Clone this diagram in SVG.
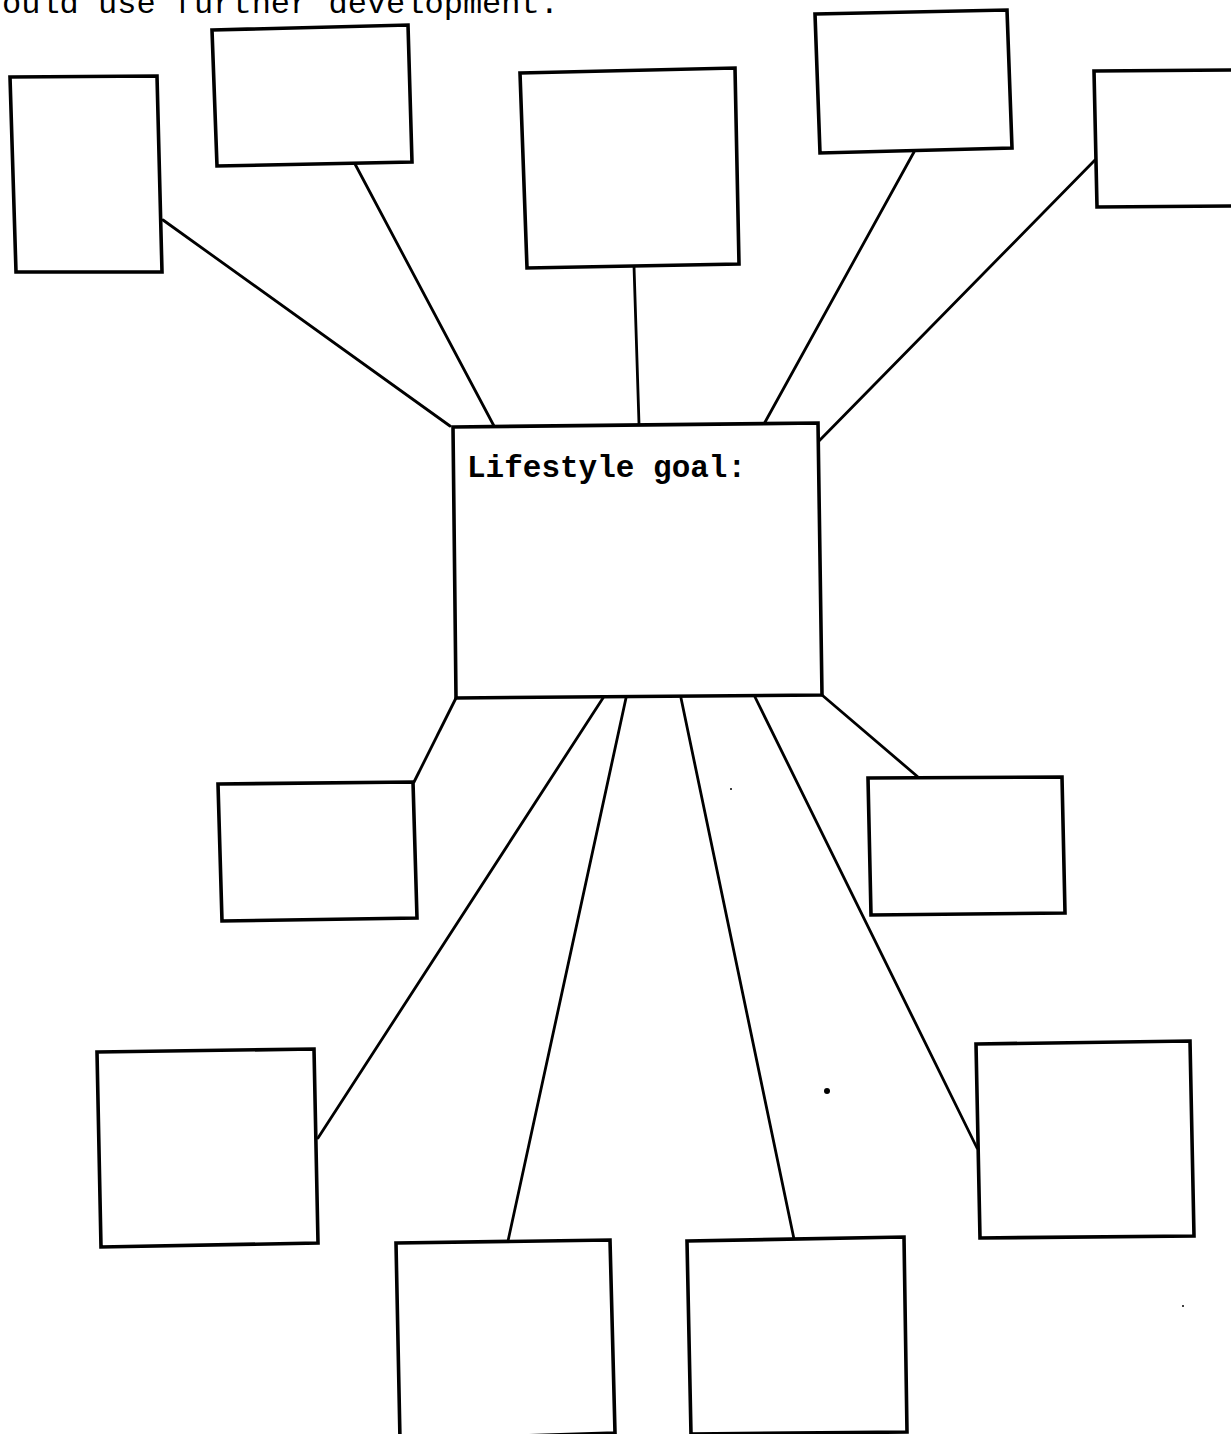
<svg xmlns="http://www.w3.org/2000/svg" width="1231" height="1434" viewBox="0 0 1231 1434">
<style>
.box{fill:#fff;stroke:#000;stroke-width:3.6;stroke-linejoin:miter}
.con{stroke:#000;stroke-width:2.8;fill:none;stroke-linecap:round}
.hdr{font-family:"Liberation Mono","Courier New",monospace;font-size:32px;fill:#000}
.lbl{font-family:"Liberation Mono","Courier New",monospace;font-size:31px;font-weight:bold;fill:#000}
</style>
<rect width="1231" height="1434" fill="#fff"/>
<text class="hdr" x="2" y="13">ould use further development.</text>
<g id="connectors">
<line class="con" x1="163" y1="220" x2="450" y2="426"/>
<line class="con" x1="355" y1="164" x2="494" y2="426"/>
<line class="con" x1="634" y1="266" x2="639" y2="424"/>
<line class="con" x1="914" y1="152" x2="764" y2="424"/>
<line class="con" x1="1095" y1="160" x2="817" y2="443"/>
<line class="con" x1="456" y1="698" x2="414" y2="782"/>
<line class="con" x1="603" y1="698" x2="318" y2="1138"/>
<line class="con" x1="626" y1="698" x2="508" y2="1241"/>
<line class="con" x1="681" y1="698" x2="794" y2="1239"/>
<line class="con" x1="755" y1="697" x2="977" y2="1148"/>
<line class="con" x1="822" y1="695" x2="918" y2="777"/>
</g>
<g id="node-top1"><polygon class="box" points="10,77 157,76 162,272 16,272"/></g>
<g id="node-top2"><polygon class="box" points="212,30 408,25 412,162 217,166"/></g>
<g id="node-top3"><polygon class="box" points="520,73 735,68 739,264 527,268"/></g>
<g id="node-top4"><polygon class="box" points="815,14 1007,10 1012,148 820,153"/></g>
<g id="node-top5"><polygon class="box" points="1094,71 1240,70 1240,206 1097,207"/></g>
<g id="node-center">
<polygon class="box" points="453,427 818,423 822,695 456,698"/>
<text class="lbl" x="467" y="477">Lifestyle goal:</text>
</g>
<g id="node-midleft"><polygon class="box" points="218,784 413,782 417,918 222,921"/></g>
<g id="node-midright"><polygon class="box" points="868,778 1062,777 1065,913 871,915"/></g>
<g id="node-lowleft"><polygon class="box" points="97,1052 314,1049 318,1243 101,1247"/></g>
<g id="node-lowright"><polygon class="box" points="976,1044 1190,1041 1194,1236 980,1238"/></g>
<g id="node-bottom1"><polygon class="box" points="396,1243 610,1240 615,1433 400,1440"/></g>
<g id="node-bottom2"><polygon class="box" points="687,1241 904,1237 907,1432 691,1434"/></g>
<circle cx="827" cy="1091" r="3" fill="#000"/>
<circle cx="731" cy="789" r="1" fill="#000"/>
<circle cx="1183" cy="1306" r="1" fill="#000"/>
</svg>
